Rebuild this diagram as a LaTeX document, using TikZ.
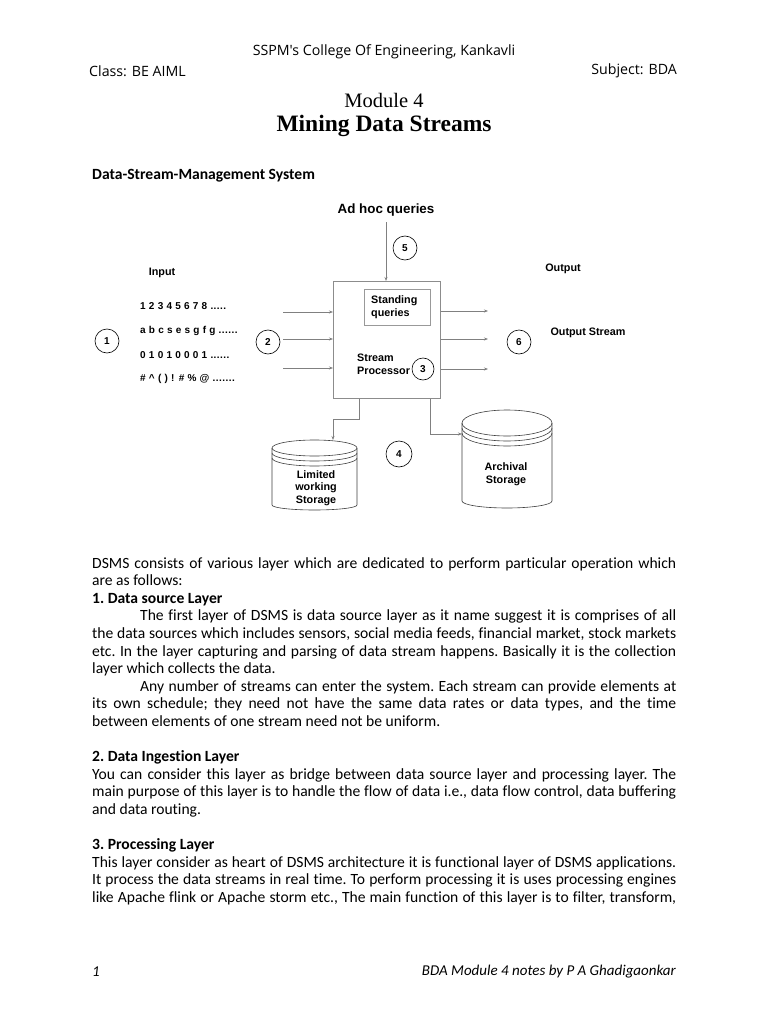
\documentclass[tikz,border=0pt]{standalone}
\usepackage{fontspec}
\setmainfont{Carlito}[Ligatures=NoCommon]
\newfontfamily\arialf{Liberation Sans}
\newfontfamily\rowf{Liberation Sans}[LetterSpace=4.5]
\newfontfamily\headf{Open Sans}
\newfontfamily\titlef{Liberation Serif}
\usetikzlibrary{arrows.meta}
\newcommand\myfs[2]{\fontsize{#1pt}{#2pt}\selectfont}
\newcommand\jline[1]{\makebox[584pt][s]{#1}}
\newcommand\jind[1]{\makebox[536pt][s]{#1}}
\tikzset{
  body/.style={anchor=base west,inner sep=0pt,font=\frenchspacing\myfs{15.6}{18}},
  bodyb/.style={body,font=\frenchspacing\bfseries\myfs{15.6}{18}},
  diag/.style={font=\arialf\bfseries\myfs{10.8}{13},inner sep=0pt},
  row/.style={inner sep=0pt,anchor=west,font=\rowf\bfseries\myfs{10}{12}},
  num/.style={draw=black,line width=0.6pt,circle,minimum size=24pt,inner sep=0pt,font=\arialf\bfseries\myfs{10}{12}},
  arr/.style={draw=black!50,line width=0.6pt,-{Stealth[length=4pt,width=3pt]}},
  ln/.style={draw=black!50,line width=0.6pt},
  cyl/.style={draw=black!75,line width=0.6pt}
}
\begin{document}
\begin{tikzpicture}[x=1pt,y=1pt]
\useasboundingbox[fill=white] (0,0) rectangle (768,-1024);
% header
\node[font=\headf\myfs{14.2}{17},inner sep=0pt] (hdr) at (384,-52) {SSPM's College Of Engineering, Kankavli};
\node[font=\headf\myfs{14.2}{17},inner sep=0pt,anchor=west] (cls) at (89,-71) {Class: BE AIML};
\node[font=\headf\myfs{14.2}{17},inner sep=0pt,anchor=east] (subj) at (677,-71) {Subject: BDA};
\node[font=\titlef\myfs{20.5}{24},inner sep=0pt] (mod) at (384,-100) {Module 4};
\node[font=\titlef\bfseries\myfs{23.5}{27},inner sep=0pt] (title) at (384,-126) {Mining Data Streams};
\node[bodyb] (sec) at (92,-180) {Data-Stream-Management System};

% diagram
\node[diag,font=\arialf\bfseries\myfs{13.4}{16}] (adhoc) at (386,-210) {Ad hoc queries};
\node[draw=black!45,line width=0.6pt,minimum width=107pt,minimum height=117pt,anchor=north west,inner sep=0pt] (sp) at (333,-281) {};
\node[draw=black!40,line width=0.6pt,minimum width=66pt,minimum height=36pt,anchor=north west,inner sep=0pt] (sq) at (364,-289) {};
\node[diag,anchor=west,align=left] (sqt) at (371,-307.5) {Standing\\queries};
\node[diag,anchor=west,align=left] (spt) at (357,-364) {Stream\\Processor};
\node[num,minimum size=22pt] (n3) at (423,-369) {3};
\node[num] (n5) at (405,-248) {5};
\draw[arr] ([yshift=-6pt]adhoc.south) -- (adhoc.south |- sp.north);

\node[diag] (inp) at (162,-273) {Input};
\node[row] (r1) at (140,-306) {1 2 3 4 5 6 7 8 .....};
\node[row] (r2) at (140,-331) {a b c s e s g f g ......};
\node[row] (r3) at (140,-355) {0 1 0 1 0 0 0 1 ......};
\node[row] (r4) at (140,-379) {\# \^{} ( ) ! \# \% @ .......};
\node[num] (n1) at (107,-341) {1};
\node[num] (n2) at (268,-342) {2};
\coordinate (i1) at (283,-312);
\coordinate (i2) at (283,-339);
\coordinate (i3) at (283,-368);
\draw[arr] (i1) -- (i1 -| sp.west);
\draw[arr] (i2) -- (i2 -| sp.west);
\draw[arr] (i3) -- (i3 -| sp.west);

\coordinate (o1) at (488,-311);
\coordinate (o2) at (488,-339);
\coordinate (o3) at (488,-369);
\draw[arr] (o1 -| sp.east) -- (o1);
\draw[arr] (o2 -| sp.east) -- (o2);
\draw[arr] (o3 -| sp.east) -- (o3);
\node[num] (n6) at (519,-342) {6};
\node[diag] (outl) at (563,-269) {Output};
\node[diag] (outs) at (588,-333) {Output Stream};

% left cylinder
\draw[cyl] (272,-448) -- (272,-505) arc[start angle=180,end angle=360,x radius=42.5,y radius=5] -- (357,-448);
\draw[cyl] (314.5,-448) ellipse[x radius=42.5,y radius=8];
\draw[cyl] (272,-453) arc[start angle=180,end angle=360,x radius=42.5,y radius=8];
\draw[cyl] (272,-458) arc[start angle=180,end angle=360,x radius=42.5,y radius=8];
\node[diag,align=center,font=\arialf\bfseries\myfs{10.8}{12.5}] (lws) at (316,-488) {Limited\\working\\Storage};
\coordinate (lwtop) at (333,-440);

% right cylinder
\draw[cyl] (462,-423) -- (462,-501) arc[start angle=180,end angle=360,x radius=45,y radius=7] -- (552,-423);
\draw[cyl] (507,-423) ellipse[x radius=45,y radius=13];
\draw[cyl] (462,-428) arc[start angle=180,end angle=360,x radius=45,y radius=13];
\draw[cyl] (462,-433) arc[start angle=180,end angle=360,x radius=45,y radius=13];
\node[diag,align=center,font=\arialf\bfseries\myfs{10.8}{13.5}] (arch) at (506,-474) {Archival\\Storage};
\coordinate (artop) at (462,-434);

\node[num,minimum size=26pt] (n4) at (399,-454) {4};

\coordinate (b1) at ([xshift=26pt]sp.south west);
\coordinate (b2) at ([xshift=-10pt]sp.south east);
\draw[arr] (b1) -- (b1 |- 0,-419) -- (lwtop |- 0,-419) -- (lwtop);
\draw[arr] (b2) -- (b2 |- artop) -- (artop);

% body text
\node[body] (l1) at (92,-568) {\jline{DSMS consists of various layer which are dedicated to perform particular operation which}};
\node[body] (l2) at (92,-585.6) {are as follows:};
\node[bodyb] (l3) at (92,-603.2) {1. Data source Layer};
\node[body] (l4) at (140,-620.8) {\jind{The first layer of DSMS is data source layer as it name suggest it is comprises of all}};
\node[body] (l5) at (92,-638.4) {\jline{the data sources which includes sensors, social media feeds, financial market, stock markets}};
\node[body] (l6) at (92,-656) {\jline{etc. In the layer capturing and parsing of data stream happens. Basically it is the collection}};
\node[body] (l7) at (92,-673.6) {layer which collects the data.};
\node[body] (l8) at (140,-691.2) {\jind{Any number of streams can enter the system. Each stream can provide elements at}};
\node[body] (l9) at (92,-708.8) {\jline{its own schedule; they need not have the same data rates or data types, and the time}};
\node[body] (l10) at (92,-726.4) {between elements of one stream need not be uniform.};
\node[bodyb] (l11) at (92,-761.6) {2. Data Ingestion Layer};
\node[body] (l12) at (92,-779.2) {\jline{You can consider this layer as bridge between data source layer and processing layer. The}};
\node[body] (l13) at (92,-796.8) {\jline{main purpose of this layer is to handle the flow of data i.e., data flow control, data buffering}};
\node[body] (l14) at (92,-814.4) {and data routing.};
\node[bodyb] (l15) at (92,-849.6) {3. Processing Layer};
\node[body] (l16) at (92,-867.2) {\jline{This layer consider as heart of DSMS architecture it is functional layer of DSMS applications.}};
\node[body] (l17) at (92,-884.8) {\jline{It process the data streams in real time. To perform processing it is uses processing engines}};
\node[body] (l18) at (92,-902.4) {\jline{like Apache flink or Apache storm etc., The main function of this layer is to filter, transform,}};

% footer
\node[font=\itshape\myfs{15}{17},inner sep=0pt,anchor=west] (pg) at (92,-972) {1};
\node[font=\itshape\myfs{15}{17},inner sep=0pt,anchor=east] (ft) at (676,-972) {BDA Module 4 notes by P A Ghadigaonkar};
\end{tikzpicture}
\end{document}
